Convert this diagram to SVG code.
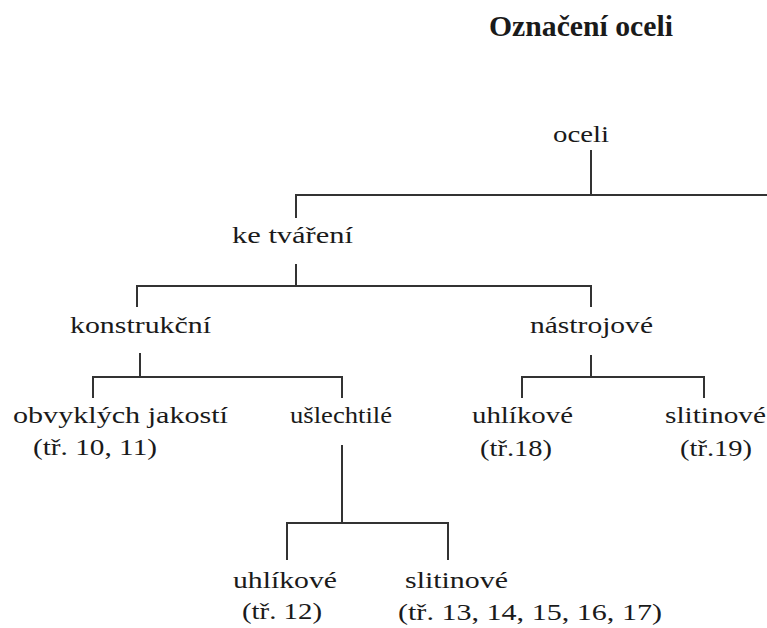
<svg xmlns="http://www.w3.org/2000/svg" width="767" height="628" viewBox="0 0 767 628">
<style>
text{font-family:"Liberation Serif","Times New Roman",serif;font-size:23px;fill:#1a1a1a}
.title{font-size:30px;font-weight:bold}
.c line{stroke:#333;stroke-width:2}
</style>
<rect width="767" height="628" fill="#fff"/>
<text class="title" x="489" y="36" textLength="184" lengthAdjust="spacingAndGlyphs">Označení oceli</text>
<g class="c" id="connectors">
<line x1="591" y1="150" x2="591" y2="195"/>
<line x1="296" y1="195" x2="767" y2="195"/>
<line x1="296" y1="194" x2="296" y2="218"/>
<line x1="296" y1="264" x2="296" y2="286"/>
<line x1="137" y1="286" x2="591" y2="286"/>
<line x1="137" y1="285" x2="137" y2="307"/>
<line x1="591" y1="285" x2="591" y2="307"/>
<line x1="140" y1="353" x2="140" y2="377"/>
<line x1="93" y1="377" x2="342" y2="377"/>
<line x1="93" y1="376" x2="93" y2="398"/>
<line x1="342" y1="376" x2="342" y2="398"/>
<line x1="591" y1="355" x2="591" y2="377"/>
<line x1="522" y1="377" x2="704" y2="377"/>
<line x1="522" y1="376" x2="522" y2="398"/>
<line x1="704" y1="376" x2="704" y2="398"/>
<line x1="342" y1="445" x2="342" y2="523"/>
<line x1="287" y1="523" x2="448" y2="523"/>
<line x1="287" y1="522" x2="287" y2="560"/>
<line x1="448" y1="522" x2="448" y2="560"/>
</g>
<g id="oceli"><text x="553" y="142" textLength="56" lengthAdjust="spacingAndGlyphs">oceli</text></g>
<g id="ke-tvareni"><text x="232" y="243" textLength="121" lengthAdjust="spacingAndGlyphs">ke tváření</text></g>
<g id="konstrukcni"><text x="70" y="333" textLength="141" lengthAdjust="spacingAndGlyphs">konstrukční</text></g>
<g id="nastrojove"><text x="530" y="333" textLength="123" lengthAdjust="spacingAndGlyphs">nástrojové</text></g>
<g id="obvyklych"><text x="13" y="423" textLength="215" lengthAdjust="spacingAndGlyphs">obvyklých jakostí</text><text x="33" y="455" textLength="124" lengthAdjust="spacingAndGlyphs">(tř. 10, 11)</text></g>
<g id="uslechtile"><text x="290" y="423" textLength="102" lengthAdjust="spacingAndGlyphs">ušlechtilé</text></g>
<g id="uhlikove-n"><text x="472" y="423" textLength="101" lengthAdjust="spacingAndGlyphs">uhlíkové</text><text x="480" y="456" textLength="72" lengthAdjust="spacingAndGlyphs">(tř.18)</text></g>
<g id="slitinove-n"><text x="665" y="423" textLength="101" lengthAdjust="spacingAndGlyphs">slitinové</text><text x="680" y="456" textLength="72" lengthAdjust="spacingAndGlyphs">(tř.19)</text></g>
<g id="uhlikove-u"><text x="233" y="588" textLength="104" lengthAdjust="spacingAndGlyphs">uhlíkové</text><text x="242" y="619" textLength="80" lengthAdjust="spacingAndGlyphs">(tř. 12)</text></g>
<g id="slitinove-u"><text x="405" y="588" textLength="103" lengthAdjust="spacingAndGlyphs">slitinové</text><text x="398" y="620" textLength="264" lengthAdjust="spacingAndGlyphs">(tř. 13, 14, 15, 16, 17)</text></g>
</svg>
